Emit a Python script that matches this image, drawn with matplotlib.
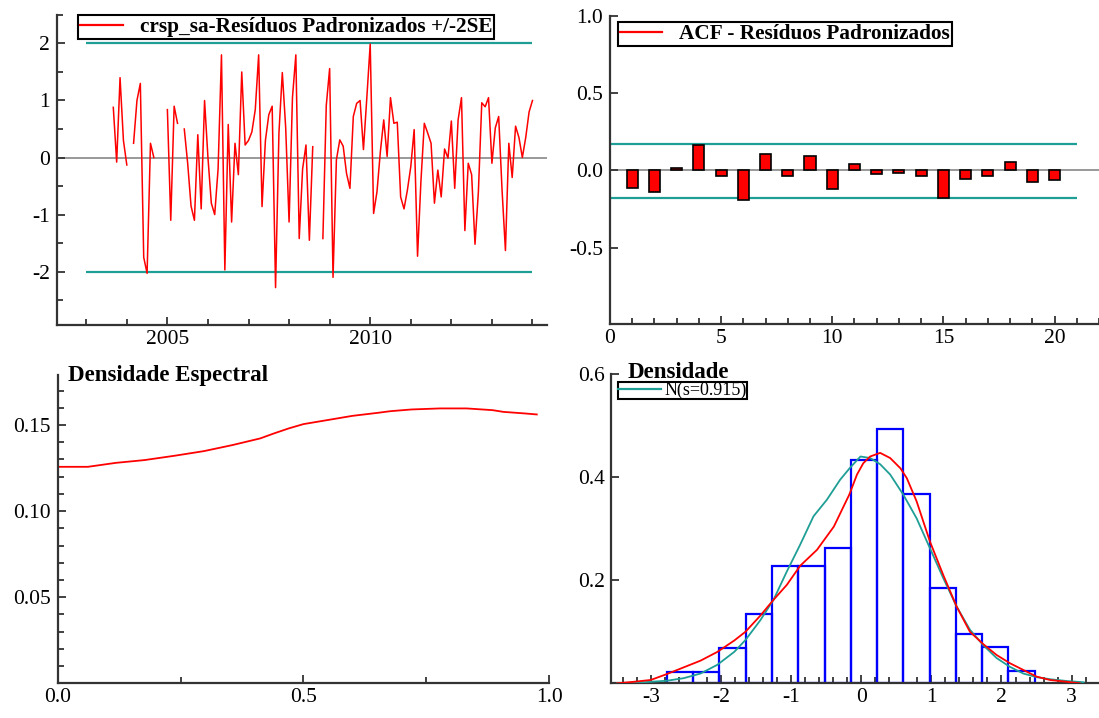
import numpy as np
import matplotlib
matplotlib.use("Agg")
import matplotlib.pyplot as plt
from matplotlib.lines import Line2D
from matplotlib.ticker import MultipleLocator

plt.rcParams['font.family'] = ['Liberation Serif', 'DejaVu Serif']
plt.rcParams['axes.unicode_minus'] = False

RED = '#ff0000'
TEAL = '#1f9e96'
BLUE = '#0000ff'
AXC = '#333333'

# standardized residuals, monthly from 2003 M9 (nan = gaps in the plotted line)
resid = [0.88, -0.08, 1.4, 0.3, -0.13, np.nan, 0.25, 1.0, 1.3, -1.75,
         -2.03, 0.25, 0.0, np.nan, np.nan, np.nan, 0.84, -1.1, 0.9, 0.6,
         np.nan, 0.5, -0.1, -0.85, -1.1, 0.4, -0.9, 1.0, 0.0, -0.8,
         -1.0, -0.2, 1.8, -1.97, 0.58, -1.13, 0.25, -0.3, 1.5, 0.22,
         0.3, 0.45, 0.84, 1.8, -0.86, 0.3, 0.75, 0.9, -2.28, 0.43,
         1.49, 0.52, -1.13, 1.05, 1.8, -1.42, -0.2, 0.22, -1.45, 0.19,
         np.nan, np.nan, -1.42, 0.91, 1.56, -2.1, -0.04, 0.31, 0.2, -0.28,
         -0.54, 0.72, 0.95, 1.0, 0.14, 1.05, 1.99, -0.98, -0.6, 0.1,
         0.66, 0.02, 1.05, 0.6, 0.62, -0.69, -0.9, -0.57, -0.16, 0.49,
         -1.73, -0.42, 0.6, 0.43, 0.25, -0.8, -0.22, -0.69, 0.15, -0.01,
         0.64, -0.54, 0.66, 1.05, -1.28, -0.1, -0.3, -1.52, -0.6, 0.96,
         0.89, 1.05, -0.1, 0.52, 0.72, -0.57, -1.63, 0.25, -0.35, 0.55,
         0.35, 0.0, 0.35, 0.8, 1.0]
start_year, start_month = 2003, 9
se_band = 2.0

# ACF of residuals
lags = list(range(1, 21))
acf_vals = [-0.116, -0.142, 0.017, 0.162, -0.039, -0.194, 0.106, -0.039, 0.095, -0.119,
            0.043, -0.026, -0.015, -0.039, -0.179, -0.054, -0.039, 0.054, -0.078, -0.065]
acf_hi, acf_lo = 0.172, -0.179

# spectral density
freq = [0.0, 0.061, 0.118, 0.176, 0.237, 0.297, 0.355, 0.412, 0.44, 0.47, 0.5,
        0.548, 0.6, 0.65, 0.677, 0.72, 0.778, 0.832, 0.885, 0.907, 0.95, 0.975]
spec = [0.1257, 0.1257, 0.1280, 0.1296, 0.1321, 0.1348, 0.1383, 0.1422, 0.1451,
        0.1480, 0.1505, 0.1528, 0.1553, 0.1570, 0.1580, 0.1590, 0.1596, 0.1596,
        0.1586, 0.1576, 0.1567, 0.1561]

# histogram + densities
bin_edges = [-2.77, -2.396, -2.021, -1.647, -1.272, -0.898, -0.523, -0.149,
             0.226, 0.600, 0.975, 1.349, 1.724, 2.098, 2.473]
hist_dens = [0.022, 0.022, 0.068, 0.135, 0.227, 0.227, 0.262, 0.434,
             0.494, 0.367, 0.184, 0.095, 0.071, 0.024]
kd_x = [-3.48, -3.24, -3.0, -2.77, -2.53, -2.29, -2.05, -1.81, -1.65, -1.44, -1.25,
        -1.06, -0.87, -0.63, -0.39, -0.17, -0.06, 0.03, 0.128, 0.27, 0.413, 0.56,
        0.65, 0.79, 0.98, 1.17, 1.36, 1.55, 1.74, 1.93, 2.12, 2.31, 2.5, 2.69, 2.93, 3.12]
kd_y = [0.0, 0.003, 0.0065, 0.018, 0.031, 0.044, 0.061, 0.083, 0.10, 0.131, 0.162,
        0.191, 0.228, 0.259, 0.304, 0.366, 0.405, 0.427, 0.44, 0.447, 0.437, 0.417,
        0.398, 0.353, 0.275, 0.21, 0.149, 0.10, 0.076, 0.055, 0.039, 0.026, 0.013,
        0.0065, 0.003, 0.0]
nd_x = [-3.48, -3.24, -3.0, -2.77, -2.53, -2.29, -2.05, -1.81, -1.65, -1.44, -1.25,
        -1.06, -0.87, -0.68, -0.49, -0.3, -0.16, -0.01, 0.128, 0.27, 0.413, 0.60,
        0.79, 0.98, 1.17, 1.36, 1.55, 1.74, 1.93, 2.12, 2.31, 2.5, 2.69, 2.93, 3.17]
nd_y = [0.0, 0.001, 0.003, 0.005, 0.01, 0.019, 0.036, 0.061, 0.084, 0.122, 0.162,
        0.217, 0.269, 0.324, 0.356, 0.395, 0.418, 0.44, 0.437, 0.425, 0.405, 0.366,
        0.32, 0.262, 0.204, 0.149, 0.104, 0.074, 0.049, 0.032, 0.019, 0.012, 0.008,
        0.0045, 0.002]


def style(ax):
    for s in ['top', 'right']:
        ax.spines[s].set_visible(False)
    for s in ['left', 'bottom']:
        ax.spines[s].set_linewidth(1.6)
        ax.spines[s].set_color(AXC)
    ax.tick_params(which='both', direction='in', color=AXC, width=1.3, labelsize=15.5)
    ax.tick_params(which='major', length=6)
    ax.tick_params(which='minor', length=4)
    ax.tick_params(axis='y', pad=5)


def box_legend(ax, handle, label, anchor, **kw):
    leg = ax.legend([handle], [label], loc='upper left', bbox_to_anchor=anchor,
                    borderaxespad=0, fancybox=False, framealpha=1, edgecolor='black', **kw)
    leg.get_frame().set_linewidth(1.5)
    return leg


fig = plt.figure(figsize=(10.99, 7.18), dpi=100)

# --- top left: residuals
ax1 = fig.add_axes([0.0519, 0.5474, 0.4459, 0.4318])
style(ax1)
t = start_year + (start_month - 1) / 12 + np.arange(len(resid)) / 12
ax1.axhline(0, color='#888888', lw=1.2, zorder=1)
ax1.hlines([se_band, -se_band], 2003.0, 2014.0, color=TEAL, lw=1.6, zorder=2)
ax1.plot(t, resid, color=RED, lw=1.1, zorder=3)
ax1.set_xlim(2002.28, 2014.36)
ax1.set_ylim(-2.935, 2.5)
ax1.set_xticks([2005, 2010])
ax1.xaxis.set_minor_locator(MultipleLocator(1))
ax1.set_yticks([-2, -1, 0, 1, 2])
ax1.yaxis.set_minor_locator(MultipleLocator(0.5))
box_legend(ax1, Line2D([], [], color=RED, lw=1.6), 'crsp_sa-Resíduos Padronizados +/-2SE',
           (0.043, 1.0), prop={'weight': 'bold', 'size': 15.3}, handlelength=2.0,
           borderpad=0.1, handletextpad=0.8)

# --- top right: ACF
ax2 = fig.add_axes([0.555, 0.5487, 0.445, 0.4294])
style(ax2)
ax2.axhline(0, color='#888888', lw=1.2, zorder=1)
ax2.hlines([acf_hi, acf_lo], 0, 21, color=TEAL, lw=1.6, zorder=2)
ax2.bar(lags, acf_vals, width=0.5, color=RED, edgecolor='black', lw=1.2, zorder=3)
ax2.set_xlim(0, 22)
ax2.set_ylim(-0.995, 1.0)
ax2.set_xticks([0, 5, 10, 15, 20])
ax2.xaxis.set_minor_locator(MultipleLocator(1))
ax2.set_yticks([-0.5, 0.0, 0.5, 1.0])
ax2.set_yticklabels(['-0.5', '0.0', '0.5', '1.0'])
box_legend(ax2, Line2D([], [], color=RED, lw=1.6), 'ACF - Resíduos Padronizados',
           (0.016, 0.98), prop={'weight': 'bold', 'size': 15.3}, handlelength=2.0,
           borderpad=0.1, handletextpad=0.8)

# --- bottom left: spectral density
ax3 = fig.add_axes([0.0527, 0.0483, 0.4469, 0.4294])
style(ax3)
ax3.plot(freq, spec, color=RED, lw=1.3)
ax3.set_xlim(0, 1.0)
ax3.set_ylim(0, 0.179)
ax3.set_xticks([0.0, 0.5, 1.0])
ax3.xaxis.set_minor_locator(MultipleLocator(0.25))
ax3.set_yticks([0.05, 0.10, 0.15])
ax3.set_yticklabels(['0.05', '0.10', '0.15'])
ax3.yaxis.set_minor_locator(MultipleLocator(0.01))
ax3.text(0.02, 1.0, 'Densidade Espectral', transform=ax3.transAxes,
         fontsize=16.5, fontweight='bold', va='center', ha='left')

# --- bottom right: histogram and densities
ax4 = fig.add_axes([0.5564, 0.0483, 0.4436, 0.4308])
style(ax4)
ax4.bar(bin_edges[:-1], hist_dens, width=np.diff(bin_edges), align='edge',
        fill=False, edgecolor=BLUE, lw=1.6, zorder=2)
ax4.plot(nd_x, nd_y, color=TEAL, lw=1.3, zorder=3)
ax4.plot(kd_x, kd_y, color=RED, lw=1.3, zorder=4)
ax4.set_xlim(-3.56, 3.39)
ax4.set_ylim(0, 0.6)
ax4.set_xticks([-3, -2, -1, 0, 1, 2, 3])
ax4.xaxis.set_minor_locator(MultipleLocator(0.2))
ax4.set_yticks([0.2, 0.4, 0.6])
ax4.set_yticklabels(['0.2', '0.4', '0.6'])
ax4.text(0.032, 1.005, 'Densidade', transform=ax4.transAxes,
         fontsize=16.5, fontweight='bold', va='center', ha='left')
box_legend(ax4, Line2D([], [], color=TEAL, lw=1.6), 'N(s=0.915)',
           (0.013, 0.975), prop={'size': 13}, handlelength=2.4,
           borderpad=0.0, handletextpad=0.2)

fig.savefig('out.png', dpi=100)
